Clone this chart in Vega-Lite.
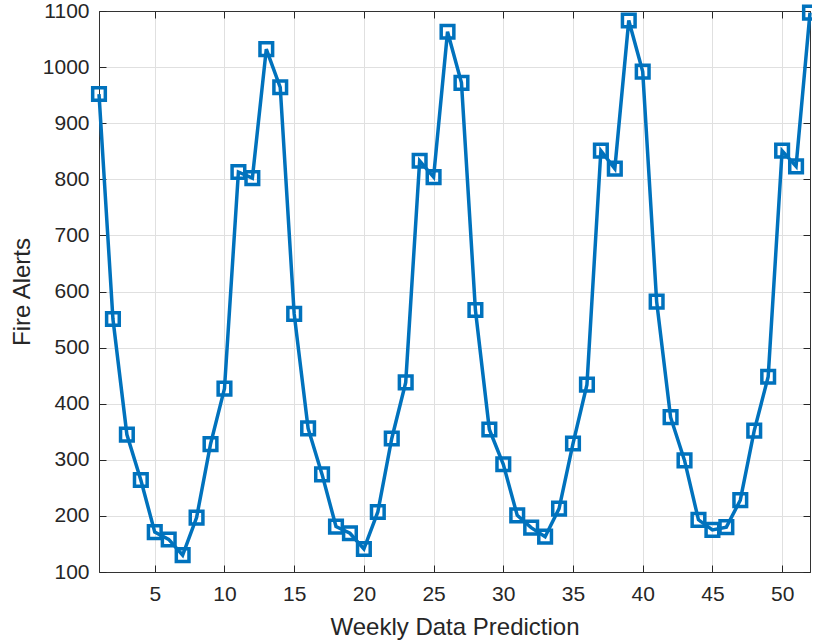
{
  "$schema": "https://vega.github.io/schema/vega-lite/v6.json",
  "autosize": "none",
  "padding": {"left": 99, "top": 11, "right": 2, "bottom": 71},
  "width": 711,
  "height": 561,
  "background": "white",
  "config": {
    "view": {"stroke": "#333333", "strokeWidth": 1},
    "font": "Liberation Sans",
    "axis": {
      "labelFont": "Liberation Sans",
      "titleFont": "Liberation Sans",
      "labelFontSize": 21,
      "titleFontSize": 24,
      "labelColor": "#262626",
      "titleColor": "#262626",
      "titleFontWeight": "normal",
      "domainColor": "#333333",
      "tickColor": "#262626",
      "tickWidth": 1,
      "gridColor": "#e0e0e0",
      "gridOpacity": 1,
      "tickSize": -7,
      "format": "d",
      "zindex": 1
    }
  },
  "data": {
    "values": [
      {"week": 1, "alerts": 952}, {"week": 2, "alerts": 551}, {"week": 3, "alerts": 345},
      {"week": 4, "alerts": 264}, {"week": 5, "alerts": 171}, {"week": 6, "alerts": 158},
      {"week": 7, "alerts": 130}, {"week": 8, "alerts": 197}, {"week": 9, "alerts": 328},
      {"week": 10, "alerts": 427}, {"week": 11, "alerts": 813}, {"week": 12, "alerts": 802},
      {"week": 13, "alerts": 1032}, {"week": 14, "alerts": 964}, {"week": 15, "alerts": 560},
      {"week": 16, "alerts": 356}, {"week": 17, "alerts": 274}, {"week": 18, "alerts": 181},
      {"week": 19, "alerts": 169}, {"week": 20, "alerts": 141}, {"week": 21, "alerts": 207},
      {"week": 22, "alerts": 338}, {"week": 23, "alerts": 438}, {"week": 24, "alerts": 833},
      {"week": 25, "alerts": 804}, {"week": 26, "alerts": 1063}, {"week": 27, "alerts": 972},
      {"week": 28, "alerts": 567}, {"week": 29, "alerts": 354}, {"week": 30, "alerts": 292},
      {"week": 31, "alerts": 201}, {"week": 32, "alerts": 179}, {"week": 33, "alerts": 163},
      {"week": 34, "alerts": 213}, {"week": 35, "alerts": 329}, {"week": 36, "alerts": 434},
      {"week": 37, "alerts": 851}, {"week": 38, "alerts": 819}, {"week": 39, "alerts": 1083},
      {"week": 40, "alerts": 992}, {"week": 41, "alerts": 582}, {"week": 42, "alerts": 376},
      {"week": 43, "alerts": 299}, {"week": 44, "alerts": 193}, {"week": 45, "alerts": 175},
      {"week": 46, "alerts": 180}, {"week": 47, "alerts": 228}, {"week": 48, "alerts": 352},
      {"week": 49, "alerts": 448}, {"week": 50, "alerts": 851}, {"week": 51, "alerts": 823},
      {"week": 52, "alerts": 1097}
    ]
  },
  "layer": [
    {
      "mark": {"type": "line", "color": "#0072BD", "strokeWidth": 3.5, "clip": false},
      "encoding": {
        "x": {
          "field": "week", "type": "quantitative",
          "scale": {"domain": [1, 52], "nice": false, "zero": false},
          "axis": {"values": [5, 10, 15, 20, 25, 30, 35, 40, 45, 50], "title": "Weekly Data Prediction", "grid": true, "labelPadding": 18, "titlePadding": 11, "zindex": 0}
        },
        "y": {
          "field": "alerts", "type": "quantitative",
          "scale": {"domain": [100, 1100], "nice": false, "zero": false},
          "axis": {"values": [100, 200, 300, 400, 500, 600, 700, 800, 900, 1000, 1100], "title": "Fire Alerts", "grid": true, "labelPadding": 17, "titlePadding": 8, "zindex": 0}
        }
      }
    },
    {
      "mark": {"type": "point", "shape": "square", "filled": false, "color": "#0072BD", "strokeWidth": 3.5, "size": 160, "opacity": 1, "clip": false},
      "encoding": {
        "x": {
          "field": "week", "type": "quantitative",
          "axis": {"orient": "top", "values": [5, 10, 15, 20, 25, 30, 35, 40, 45, 50], "labels": false, "title": null, "grid": false}
        },
        "y": {
          "field": "alerts", "type": "quantitative",
          "axis": {"orient": "right", "values": [100, 200, 300, 400, 500, 600, 700, 800, 900, 1000, 1100], "labels": false, "title": null, "grid": false}
        }
      }
    }
  ],
  "resolve": {"axis": {"x": "independent", "y": "independent"}}
}
